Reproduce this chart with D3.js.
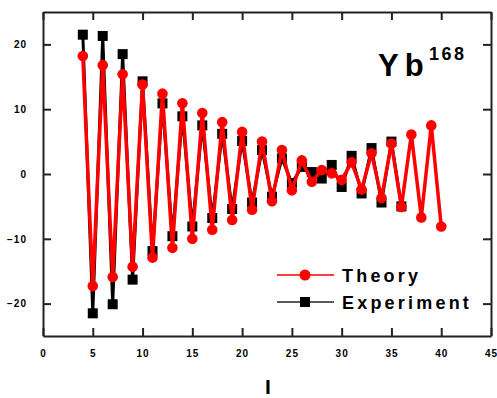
<!DOCTYPE html>
<html><head><meta charset="utf-8">
<script src="https://cdn.jsdelivr.net/npm/d3@7"></script>
<style>
body{margin:0;background:#fff;}
svg{display:block;font-family:"Liberation Sans",Arial,sans-serif;}
</style></head>
<body>
<script>
const theoryI = d3.range(4, 41);
const theoryVals = [18.2,-17.3,16.8,-15.9,15.4,-14.3,13.8,-12.9,12.4,-11.4,10.9,-10.0,9.4,-8.6,8.0,-7.1,6.5,-5.5,5.0,-4.2,3.7,-2.5,2.1,-1.2,0.6,0.1,-0.9,1.8,-2.4,3.2,-3.7,4.7,-5.1,6.1,-6.7,7.5,-8.1];
const expI = d3.range(4, 37);
const expVals = [21.5,-21.5,21.3,-20.1,18.5,-16.3,14.3,-11.9,10.9,-9.6,8.9,-8.1,7.5,-6.8,6.2,-5.4,5.1,-4.4,3.7,-3.5,2.4,-1.4,1.1,0.3,-0.7,1.4,-2.0,2.8,-3.0,4.0,-4.4,5.0,-5.0];
const xTicks = [0,5,10,15,20,25,30,35,40,45];
const yTicks = [-20,-10,0,10,20];
const seriesNames = ["Theory","Experiment"];

const W = 497, H = 398;
const m = {l:43, r:6, t:12, b:62};
const svg = d3.select("body").append("svg").attr("width",W).attr("height",H);
const x = d3.scaleLinear().domain([0,45]).range([m.l, W-m.r]);
const y = d3.scaleLinear().domain([-25,25]).range([H-m.b, m.t]);

const theory = theoryI.map((d,i)=>({x:d,y:theoryVals[i]}));
const exp = expI.map((d,i)=>({x:d,y:expVals[i]}));
const line = d3.line().x(d=>x(d.x)).y(d=>y(d.y));

// experiment
svg.append("path").datum(exp).attr("d",line).attr("fill","none").attr("stroke","#000").attr("stroke-width",3);
svg.selectAll("rect.e").data(exp).enter().append("rect").attr("class","e")
  .attr("x",d=>x(d.x)-5).attr("y",d=>y(d.y)-5).attr("width",10).attr("height",10).attr("fill","#000");
// theory
svg.append("path").datum(theory).attr("d",line).attr("fill","none").attr("stroke","#ff0000").attr("stroke-width",3.5);
svg.selectAll("circle.t").data(theory).enter().append("circle").attr("class","t")
  .attr("cx",d=>x(d.x)).attr("cy",d=>y(d.y)).attr("r",5.3).attr("fill","#ff0000");

// axes
const tickLen = -8;
const axStyle = g => { g.select(".domain").attr("stroke","#222").attr("stroke-width",2);
  g.selectAll(".tick line").attr("stroke","#222").attr("stroke-width",2); };
svg.append("g").attr("transform",`translate(0,${H-m.b})`)
  .call(d3.axisBottom(x).tickValues(xTicks).tickSizeInner(tickLen).tickSizeOuter(0).tickPadding(14))
  .call(axStyle)
  .call(g=>g.selectAll("text").attr("font-size",10).attr("font-weight","bold").attr("letter-spacing",1).attr("fill","#000"));
svg.append("g").attr("transform",`translate(0,${m.t})`)
  .call(d3.axisTop(x).tickValues(xTicks).tickSizeInner(tickLen).tickSizeOuter(0).tickFormat(""))
  .call(axStyle);
svg.append("g").attr("transform",`translate(${m.l},0)`)
  .call(d3.axisLeft(y).tickValues(yTicks).tickSizeInner(tickLen).tickSizeOuter(0).tickPadding(16))
  .call(axStyle)
  .call(g=>g.selectAll("text").attr("font-size",10).attr("font-weight","bold").attr("letter-spacing",1).attr("fill","#000"));
svg.append("g").attr("transform",`translate(${W-m.r},0)`)
  .call(d3.axisRight(y).tickValues(yTicks).tickSizeInner(tickLen).tickSizeOuter(0).tickFormat(""))
  .call(axStyle);

// x title
svg.append("text").attr("x",(m.l+W-m.r)/2+1).attr("y",394).attr("text-anchor","middle")
  .attr("font-size",21).attr("font-weight","bold").text("I");

// label
svg.append("text").attr("x",378).attr("y",76).attr("font-weight","bold").attr("font-size",31).attr("letter-spacing",6).text("Yb");
svg.append("text").attr("x",429).attr("y",60).attr("font-weight","bold").attr("font-size",18).attr("letter-spacing",2.5).text("168");

// legend
const leg = svg.append("g");
const items = [{n:seriesNames[0],c:"#ff0000",t:"c",yy:275},{n:seriesNames[1],c:"#222",t:"s",yy:302}];
items.forEach(it=>{
  leg.append("line").attr("x1",277).attr("x2",334).attr("y1",it.yy).attr("y2",it.yy).attr("stroke",it.c).attr("stroke-width",1.5);
  if(it.t==="c") leg.append("circle").attr("cx",305).attr("cy",it.yy).attr("r",5.5).attr("fill","#ff0000");
  else leg.append("rect").attr("x",300).attr("y",it.yy-5).attr("width",10).attr("height",10).attr("fill","#000");
  leg.append("text").attr("x",342).attr("y",it.yy+6.5).attr("font-size",18).attr("font-weight","bold").attr("letter-spacing",3.2).text(it.n);
});
</script>
</body></html>
